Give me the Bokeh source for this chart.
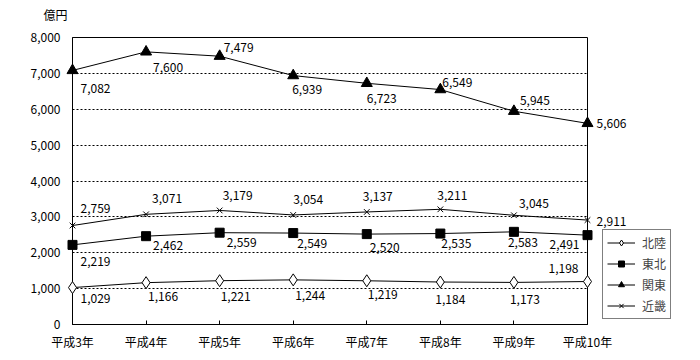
from bokeh.plotting import figure
from bokeh.models import (Range1d, FixedTicker, NumeralTickFormatter, Label,
                          Legend, LegendItem, ColumnDataSource)
from bokeh.core.properties import value
from bokeh.embed import file_html
from bokeh.resources import INLINE

# ---- data ----
years = ["平成3年", "平成4年", "平成5年", "平成6年", "平成7年", "平成8年", "平成9年", "平成10年"]
hokuriku = [1029, 1166, 1221, 1244, 1219, 1184, 1173, 1198]
tohoku = [2219, 2462, 2559, 2549, 2520, 2535, 2583, 2491]
kanto = [7082, 7600, 7479, 6939, 6723, 6549, 5945, 5606]
kinki = [2759, 3071, 3179, 3054, 3137, 3211, 3045, 2911]
y_ticks = [0, 1000, 2000, 3000, 4000, 5000, 6000, 7000, 8000]

# ---- label placement (screen px offsets, layout only) ----
hokuriku_dx = [8, 2, 1, 2, 1, -5, -4, -39]
hokuriku_dy = [11, 14, 16, 16, 14, 17, 17, -13]
tohoku_dx = [8, 7, 7, 4, 3, 1, -6, -38]
tohoku_dy = [17, 9, 10, 10, 13, 10, 11, 9]
kanto_dx = [8, 7, 4, -1, 0, 2, 6, 9]
kanto_dy = [18, 16, -9, 14, 15, -7, -11, 0]
kinki_dx = [8, 6, 3, 0, -4, -3, 5, 9]
kinki_dy = [-17, -16, -15, -15, -15, -14, -12, 1]

FONT = "Noto Sans CJK JP"
FS = "12px"

p = figure(frame_width=515, frame_height=287, output_backend="svg",
           toolbar_location=None,
           x_range=Range1d(0, len(years) - 1), y_range=Range1d(0, 8000),
           min_border_left=72, min_border_right=97, min_border_top=37,
           min_border_bottom=28)
p.background_fill_color = "white"
p.border_fill_color = "white"
p.outline_line_color = "black"
p.outline_line_width = 1

xs = list(range(len(years)))

# axes
p.xaxis.ticker = FixedTicker(ticks=xs)
p.xaxis.major_label_overrides = {i: t for i, t in enumerate(years)}
p.xaxis.major_tick_in = 4
p.xaxis.major_tick_out = 0
p.xaxis.minor_tick_line_color = None
p.xaxis.major_label_standoff = 8
p.yaxis.ticker = FixedTicker(ticks=y_ticks)
p.yaxis.formatter = NumeralTickFormatter(format="0,0")
p.yaxis.major_tick_in = 0
p.yaxis.major_tick_out = 0
p.yaxis.minor_tick_line_color = None
p.yaxis.major_label_standoff = 12
for ax in (p.xaxis, p.yaxis):
    ax.axis_line_color = "black"
    ax.major_tick_line_color = "black"
    ax.major_label_text_font = FONT
    ax.major_label_text_font_size = FS
    ax.major_label_text_color = "black"

p.xgrid.grid_line_color = None
p.ygrid.grid_line_color = "black"
p.ygrid.grid_line_dash = "2 2"
p.ygrid.grid_line_width = 1

series = [
    ("北陸", hokuriku, "diamond", 12, "white", hokuriku_dx, hokuriku_dy),
    ("東北", tohoku, "square", 9, "black", tohoku_dx, tohoku_dy),
    ("関東", kanto, "triangle", 11, "black", kanto_dx, kanto_dy),
    ("近畿", kinki, "x", 8, "black", kinki_dx, kinki_dy),
]

items = []
for name, vals, marker, size, fill, dx, dy in series:
    src = ColumnDataSource(dict(x=xs, y=vals, lab=[f"{v:,}" for v in vals],
                                dx=dx, dy=dy))
    lr = p.line("x", "y", source=src, line_color="black", line_width=1, level="overlay")
    sr = p.scatter("x", "y", source=src, marker=marker, size=size,
                   fill_color=fill, line_color="black", line_width=1, level="overlay")
    p.text("x", "y", text="lab", source=src, x_offset="dx", y_offset="dy",
           text_font=value(FONT), text_font_size=FS, text_color="black",
           text_align="left", text_baseline="middle", level="overlay")
    items.append(LegendItem(label=name, renderers=[lr, sr]))

legend = Legend(items=items, location=(15, 5))
legend.border_line_color = "black"
legend.border_line_width = 1
legend.background_fill_color = "white"
legend.background_fill_alpha = 1
legend.label_text_font = FONT
legend.label_text_font_size = FS
legend.glyph_width = 28
legend.glyph_height = 15
legend.label_height = 15
legend.spacing = 4
legend.padding = 4
legend.margin = 0
legend.label_standoff = 7
p.add_layout(legend, "right")

p.add_layout(Label(x=-29, y=23, x_units="screen", y_units="screen", text="億円",
                   text_font=FONT, text_font_size=FS, text_align="left",
                   text_baseline="middle", text_color="black"), "above")

open("out.html", "w").write(file_html(p, INLINE))
